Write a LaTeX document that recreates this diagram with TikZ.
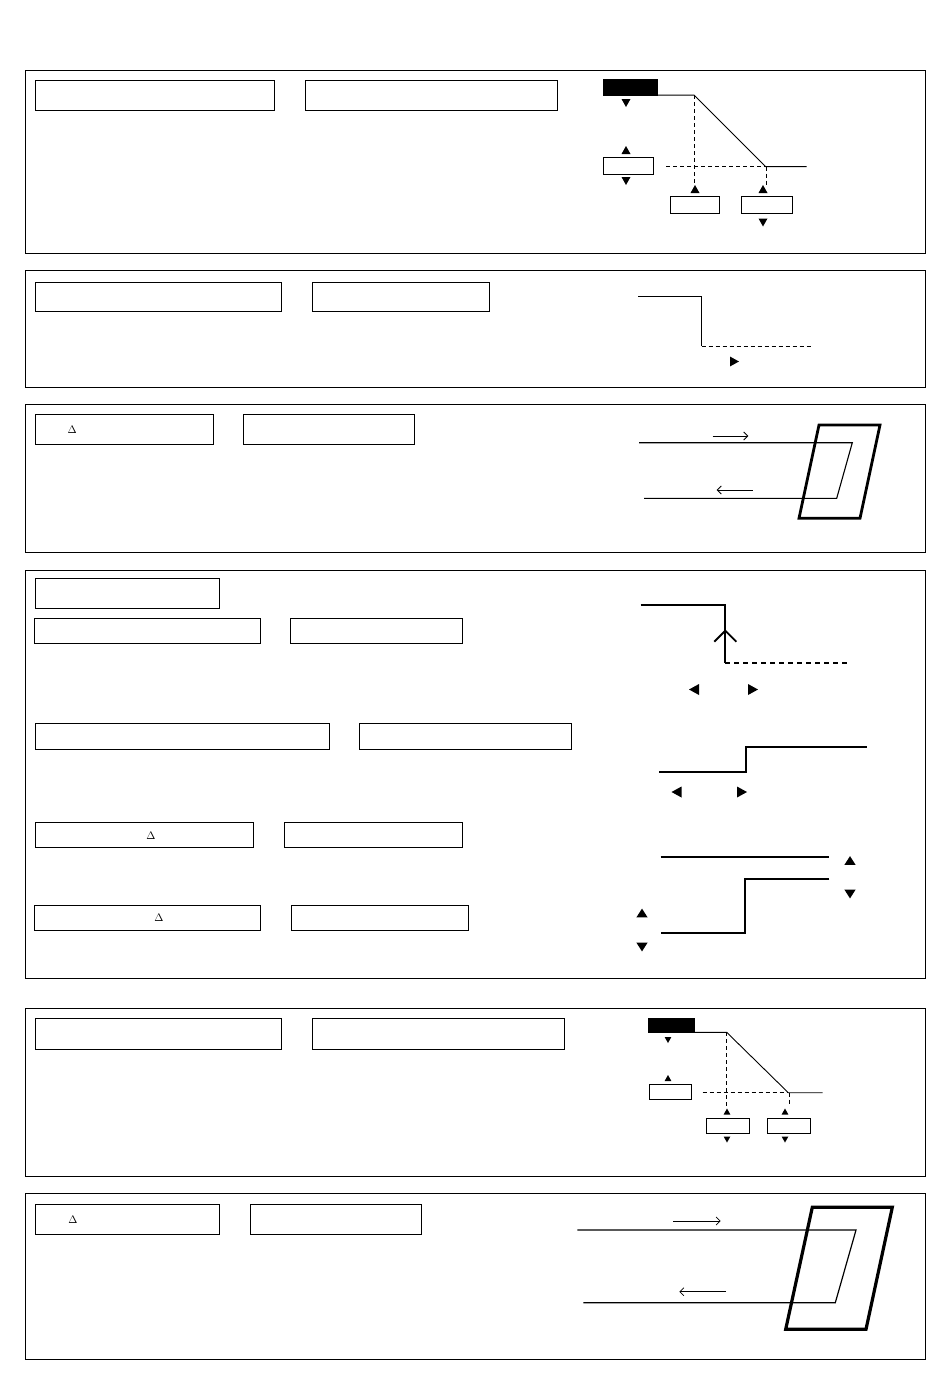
\documentclass[tikz,border=0pt]{standalone}
\usetikzlibrary{arrows.meta}
\begin{document}
\begin{tikzpicture}[x=1pt,y=-1pt,
  frame/.style={draw,line width=1pt},
  box/.style={draw,line width=1pt,inner sep=0pt,outer sep=0pt,font=\fontsize{9}{10}\selectfont},
  dtext/.style={font=\fontsize{10.5}{12}\selectfont,inner sep=0pt},
  blk/.style={draw,fill=black,inner sep=0pt,outer sep=0pt},
  thin/.style={line width=1pt},
  thick4/.style={line width=2pt},
  core/.style={line width=2.8pt,line join=miter},
  dsh/.style={line width=1pt,dash pattern=on 4pt off 3pt},
  dshb/.style={line width=2pt,dash pattern=on 5pt off 4pt},
  flow/.style={line width=0.8pt,-{Straight Barb[length=4pt,width=8pt]}},
  tup/.pic={\fill (-4.5,4)--(4.5,4)--(0,-4)--cycle;},
  tdown/.pic={\fill (-4.5,-4)--(4.5,-4)--(0,4)--cycle;},
  tleft/.pic={\fill (5,-5.5)--(5,5.5)--(-5,0)--cycle;},
  tright/.pic={\fill (-5,-5.5)--(-5,5.5)--(5,0)--cycle;}]
\useasboundingbox (0,0) rectangle (950,1374);
\fill[white] (0,0) rectangle (950,1374);

% ---------- section 1 ----------
\draw[frame] (25,70) rectangle (925,253);
\node[box,minimum width=239,minimum height=30] (b1a) at (154.5,95) {};
\node[box,minimum width=252,minimum height=30] (b1b) at (431,95) {};
\node[blk,minimum width=54,minimum height=16] (k1) at (630,87) {};
\node[box,minimum width=50,minimum height=17] (s1a) at (628,165.5) {};
\node[box,minimum width=49,minimum height=17] (s1b) at (694.5,205) {};
\node[box,minimum width=51,minimum height=17] (s1c) at (766.5,205) {};
\coordinate (p1a) at (694,95);
\coordinate (p1b) at (765.5,166.5);
\draw[thin] (k1.south east) -- (p1a) -- (p1b) -- (806.5,166.5);
\draw[dsh] (p1a) -- (694,185);
\draw[dsh] (666,166.5) -- (p1b);
\draw[dsh] (766.5,166.5) -- (766.5,185);
\pic at (626,103) {tdown};
\pic at (626,150) {tup};
\pic at (626,181) {tdown};
\pic at (695,189) {tup};
\pic at (763,189) {tup};
\pic at (763,222.5) {tdown};

% ---------- section 2 ----------
\draw[frame] (25,270) rectangle (925,387);
\node[box,minimum width=246,minimum height=29] (b2a) at (158,296.5) {};
\node[box,minimum width=177,minimum height=29] (b2b) at (400.5,296.5) {};
\draw[thin] (638,296.5) -- (701.5,296.5) -- (701.5,346);
\draw[dsh] (701.5,346) -- (812,346);
\pic[scale=0.9] at (734.5,361.5) {tright};

% ---------- section 3 ----------
\draw[frame] (25,404) rectangle (925,552);
\node[box,minimum width=178,minimum height=30] (b3a) at (124,429) {};
\node[dtext] (d3) at (72.3,429.5) {$\Delta$};
\node[box,minimum width=171,minimum height=30] (b3b) at (328.5,429) {};
\draw[core] (819,425) -- (880,425) -- (860,518.3) -- (799,518.3) -- cycle;
\draw[line width=1.1pt] (639,442.7) -- (852.3,442.7) -- (836.7,498.3) -- (644,498.3);
\draw[flow] (712.7,436) -- (748.3,436);
\draw[flow] (752.7,490) -- (716.7,490);

% ---------- section 4 ----------
\draw[frame] (25,570) rectangle (925,978);
\node[box,minimum width=184,minimum height=30] (b4a) at (127,593.3) {};
\node[box,minimum width=225.7,minimum height=25] (b4b) at (147.8,630.8) {};
\node[box,minimum width=171.7,minimum height=25] (b4c) at (376.8,630.8) {};
\node[box,minimum width=294,minimum height=25.3] (b4d) at (182,736.6) {};
\node[box,minimum width=212.4,minimum height=25.3] (b4e) at (465.5,736.6) {};
\node[box,minimum width=218.3,minimum height=25] (b4f) at (144.2,834.8) {};
\node[dtext] (d4f) at (151,835.5) {$\Delta$};
\node[box,minimum width=178.4,minimum height=25] (b4g) at (373.5,834.8) {};
\node[box,minimum width=225.7,minimum height=25] (b4h) at (147.8,917.5) {};
\node[dtext] (d4h) at (159,918) {$\Delta$};
\node[box,minimum width=177.3,minimum height=25] (b4i) at (380.3,917.5) {};
% step down with chevron
\draw[thick4] (640.7,605) -- (725.3,605) -- (725.3,663.3);
\draw[dshb] (725.3,663.3) -- (846.7,663.3);
\draw[line width=1.8pt] (714.3,641.7) -- (725.3,630.7) -- (736.3,641.7);
\pic at (694,689.5) {tleft};
\pic at (753,689.5) {tright};
% step up
\draw[thick4] (659.3,771.7) -- (745.7,771.7) -- (745.7,746.7) -- (866.7,746.7);
\pic at (676.5,792) {tleft};
\pic at (742,792) {tright};
% two lines
\draw[thick4] (660.7,856.7) -- (829.3,856.7);
\draw[thick4] (829.3,879) -- (745,879) -- (745,932.7) -- (660.7,932.7);
\pic[xscale=1.25,yscale=1.1] at (850,860.5) {tup};
\pic[xscale=1.25,yscale=1.1] at (850,894) {tdown};
\pic[xscale=1.25,yscale=1.1] at (642,913) {tup};
\pic[xscale=1.25,yscale=1.1] at (642,947) {tdown};

% ---------- section 5 ----------
\draw[frame] (25,1008) rectangle (925,1176);
\node[box,minimum width=246,minimum height=31] (b5a) at (158,1033.5) {};
\node[box,minimum width=252,minimum height=31] (b5b) at (438,1033.5) {};
\node[blk,minimum width=46,minimum height=14] (k5) at (671.3,1025.3) {};
\node[box,minimum width=42.3,minimum height=15.3] (s5a) at (670.2,1091.7) {};
\node[box,minimum width=42.3,minimum height=15] (s5b) at (727.9,1125.8) {};
\node[box,minimum width=43,minimum height=15] (s5c) at (788.8,1125.8) {};
\coordinate (p5a) at (726.7,1032.3);
\coordinate (p5b) at (788.3,1092.7);
\draw[line width=0.9pt] (k5.south east) -- (p5a) -- (p5b) -- (822.7,1092.7);
\draw[dsh,line width=0.9pt] (p5a) -- (726.7,1106);
\draw[dsh,line width=0.9pt] (702.7,1092.7) -- (p5b);
\draw[dsh,line width=0.9pt] (789,1092.7) -- (789,1106);
\pic[scale=0.75] at (668,1040) {tdown};
\pic[scale=0.75] at (668,1078) {tup};
\pic[scale=0.75] at (727,1111.5) {tup};
\pic[scale=0.75] at (785,1111.5) {tup};
\pic[scale=0.75] at (727,1139.5) {tdown};
\pic[scale=0.75] at (785,1139.5) {tdown};

% ---------- section 6 ----------
\draw[frame] (25,1193) rectangle (925,1359);
\node[box,minimum width=184,minimum height=30] (b6a) at (127,1219) {};
\node[dtext] (d6) at (73,1219.5) {$\Delta$};
\node[box,minimum width=171,minimum height=30] (b6b) at (335.5,1219) {};
\draw[line width=3.2pt,line join=miter] (812.3,1207.3) -- (892.3,1207.3) -- (866,1329.3) -- (785.7,1329.3) -- cycle;
\draw[line width=1.2pt] (577.3,1230) -- (856,1230) -- (835.3,1302.7) -- (583.3,1302.7);
\draw[flow] (673.3,1221) -- (720.7,1221);
\draw[flow] (726,1291.7) -- (679.3,1291.7);
\end{tikzpicture}
\end{document}
